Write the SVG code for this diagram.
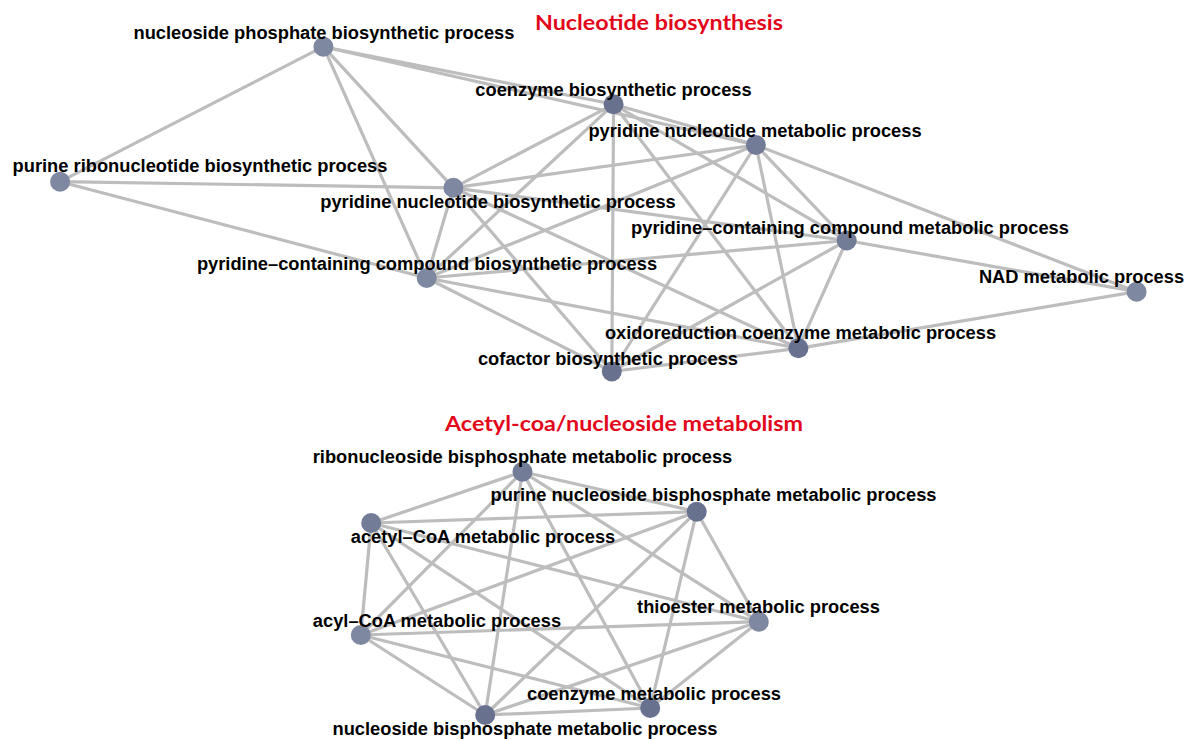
<svg xmlns="http://www.w3.org/2000/svg" width="1186" height="740" viewBox="0 0 1186 740">
<style>
.e{stroke:#bdbdbd;stroke-width:3.2;stroke-linecap:round;fill:none}
.n{fill:#7f88a1}
.d{fill:#68718e}
.m{fill:#737c97}
.l{font-family:"Liberation Sans",Arial,sans-serif;font-weight:bold;font-size:18.3px;fill:#000;text-anchor:middle}
.t{font-family:Lato,"Liberation Sans",sans-serif;font-weight:bold;font-size:21px;fill:#e3061b;text-anchor:start}
</style>
<rect width="1186" height="740" fill="#fff"/>
<g id="connectors">
<!-- top cluster -->
<line class="e" x1="323.4" y1="46.7" x2="613.6" y2="104.3"/>
<line class="e" x1="323.4" y1="46.7" x2="755.9" y2="145"/>
<line class="e" x1="323.4" y1="46.7" x2="60.1" y2="181.7"/>
<line class="e" x1="323.4" y1="46.7" x2="453.4" y2="187.8"/>
<line class="e" x1="323.4" y1="46.7" x2="426.7" y2="278"/>
<line class="e" x1="60.1" y1="181.7" x2="453.4" y2="187.8"/>
<line class="e" x1="60.1" y1="181.7" x2="426.7" y2="278"/>
<line class="e" x1="453.4" y1="187.8" x2="613.6" y2="104.3"/>
<line class="e" x1="453.4" y1="187.8" x2="755.9" y2="145"/>
<line class="e" x1="453.4" y1="187.8" x2="846.7" y2="240.5"/>
<line class="e" x1="453.4" y1="187.8" x2="426.7" y2="278"/>
<line class="e" x1="453.4" y1="187.8" x2="798.4" y2="348.3"/>
<line class="e" x1="453.4" y1="187.8" x2="611.8" y2="371.5"/>
<line class="e" x1="426.7" y1="278" x2="613.6" y2="104.3"/>
<line class="e" x1="426.7" y1="278" x2="755.9" y2="145"/>
<line class="e" x1="426.7" y1="278" x2="846.7" y2="240.5"/>
<line class="e" x1="426.7" y1="278" x2="798.4" y2="348.3"/>
<line class="e" x1="426.7" y1="278" x2="611.8" y2="371.5"/>
<line class="e" x1="613.6" y1="104.3" x2="755.9" y2="145"/>
<line class="e" x1="613.6" y1="104.3" x2="846.7" y2="240.5"/>
<line class="e" x1="613.6" y1="104.3" x2="798.4" y2="348.3"/>
<line class="e" x1="613.6" y1="104.3" x2="611.8" y2="371.5"/>
<line class="e" x1="755.9" y1="145" x2="846.7" y2="240.5"/>
<line class="e" x1="755.9" y1="145" x2="798.4" y2="348.3"/>
<line class="e" x1="755.9" y1="145" x2="611.8" y2="371.5"/>
<line class="e" x1="755.9" y1="145" x2="1136.6" y2="291.7"/>
<line class="e" x1="846.7" y1="240.5" x2="1136.6" y2="291.7"/>
<line class="e" x1="846.7" y1="240.5" x2="798.4" y2="348.3"/>
<line class="e" x1="846.7" y1="240.5" x2="611.8" y2="371.5"/>
<line class="e" x1="798.4" y1="348.3" x2="1136.6" y2="291.7"/>
<line class="e" x1="798.4" y1="348.3" x2="611.8" y2="371.5"/>
<!-- bottom cluster (complete graph) -->
<line class="e" x1="522.5" y1="471.7" x2="696.7" y2="511.7"/>
<line class="e" x1="522.5" y1="471.7" x2="371.2" y2="523"/>
<line class="e" x1="522.5" y1="471.7" x2="758.8" y2="621.7"/>
<line class="e" x1="522.5" y1="471.7" x2="360.8" y2="635"/>
<line class="e" x1="522.5" y1="471.7" x2="650.2" y2="708"/>
<line class="e" x1="522.5" y1="471.7" x2="485.2" y2="715"/>
<line class="e" x1="371.2" y1="523" x2="696.7" y2="511.7"/>
<line class="e" x1="371.2" y1="523" x2="360.8" y2="635"/>
<line class="e" x1="371.2" y1="523" x2="758.8" y2="621.7"/>
<line class="e" x1="371.2" y1="523" x2="650.2" y2="708"/>
<line class="e" x1="371.2" y1="523" x2="485.2" y2="715"/>
<line class="e" x1="696.7" y1="511.7" x2="360.8" y2="635"/>
<line class="e" x1="696.7" y1="511.7" x2="758.8" y2="621.7"/>
<line class="e" x1="696.7" y1="511.7" x2="650.2" y2="708"/>
<line class="e" x1="696.7" y1="511.7" x2="485.2" y2="715"/>
<line class="e" x1="758.8" y1="621.7" x2="360.8" y2="635"/>
<line class="e" x1="758.8" y1="621.7" x2="650.2" y2="708"/>
<line class="e" x1="758.8" y1="621.7" x2="485.2" y2="715"/>
<line class="e" x1="360.8" y1="635" x2="650.2" y2="708"/>
<line class="e" x1="360.8" y1="635" x2="485.2" y2="715"/>
<line class="e" x1="650.2" y1="708" x2="485.2" y2="715"/>
</g>
<g id="titles">
<text class="t" x="535" y="30" textLength="248" lengthAdjust="spacingAndGlyphs">Nucleotide biosynthesis</text>
<text class="t" x="445" y="431" textLength="358" lengthAdjust="spacingAndGlyphs">Acetyl-coa/nucleoside metabolism</text>
</g>
<g id="node-nucleoside-phosphate-biosynthetic"><circle class="n" cx="323.4" cy="46.7" r="10"/><text class="l" x="324" y="39">nucleoside phosphate biosynthetic process</text></g>
<g id="node-coenzyme-biosynthetic"><circle class="d" cx="613.6" cy="104.3" r="10"/><text class="l" x="613.5" y="96">coenzyme biosynthetic process</text></g>
<g id="node-pyridine-nucleotide-metabolic"><circle class="m" cx="755.9" cy="145" r="10"/><text class="l" x="755" y="137">pyridine nucleotide metabolic process</text></g>
<g id="node-purine-ribonucleotide-biosynthetic"><circle class="n" cx="60.1" cy="181.7" r="10"/><text class="l" x="200" y="171.5">purine ribonucleotide biosynthetic process</text></g>
<g id="node-pyridine-nucleotide-biosynthetic"><circle class="n" cx="453.4" cy="187.8" r="10"/><text class="l" x="498" y="207.5">pyridine nucleotide biosynthetic process</text></g>
<g id="node-pyridine-containing-metabolic"><circle class="m" cx="846.7" cy="240.5" r="10"/><text class="l" x="850" y="234">pyridine–containing compound metabolic process</text></g>
<g id="node-pyridine-containing-biosynthetic"><circle class="n" cx="426.7" cy="278" r="10"/><text class="l" x="427" y="269.5">pyridine–containing compound biosynthetic process</text></g>
<g id="node-nad-metabolic"><circle class="n" cx="1136.6" cy="291.7" r="10"/><text class="l" x="1081.5" y="283.3">NAD metabolic process</text></g>
<g id="node-oxidoreduction-coenzyme-metabolic"><circle class="d" cx="798.4" cy="348.3" r="10"/><text class="l" x="800.5" y="339">oxidoreduction coenzyme metabolic process</text></g>
<g id="node-cofactor-biosynthetic"><circle class="d" cx="611.8" cy="371.5" r="10"/><text class="l" x="608" y="365">cofactor biosynthetic process</text></g>
<g id="node-ribonucleoside-bisphosphate-metabolic"><circle class="m" cx="522.5" cy="471.7" r="10"/><text class="l" x="522.5" y="463.3">ribonucleoside bisphosphate metabolic process</text></g>
<g id="node-purine-nucleoside-bisphosphate-metabolic"><circle class="d" cx="696.7" cy="511.7" r="10"/><text class="l" x="713.5" y="501">purine nucleoside bisphosphate metabolic process</text></g>
<g id="node-acetyl-coa-metabolic"><circle class="m" cx="371.2" cy="523" r="10"/><text class="l" x="483" y="542.7">acetyl–CoA metabolic process</text></g>
<g id="node-thioester-metabolic"><circle class="n" cx="758.8" cy="621.7" r="10"/><text class="l" x="758.5" y="613.3">thioester metabolic process</text></g>
<g id="node-acyl-coa-metabolic"><circle class="n" cx="360.8" cy="635" r="10"/><text class="l" x="437" y="626.7">acyl–CoA metabolic process</text></g>
<g id="node-coenzyme-metabolic"><circle class="d" cx="650.2" cy="708" r="10"/><text class="l" x="654" y="700">coenzyme metabolic process</text></g>
<g id="node-nucleoside-bisphosphate-metabolic"><circle class="d" cx="485.2" cy="715" r="10"/><text class="l" x="525" y="735">nucleoside bisphosphate metabolic process</text></g>
</svg>
